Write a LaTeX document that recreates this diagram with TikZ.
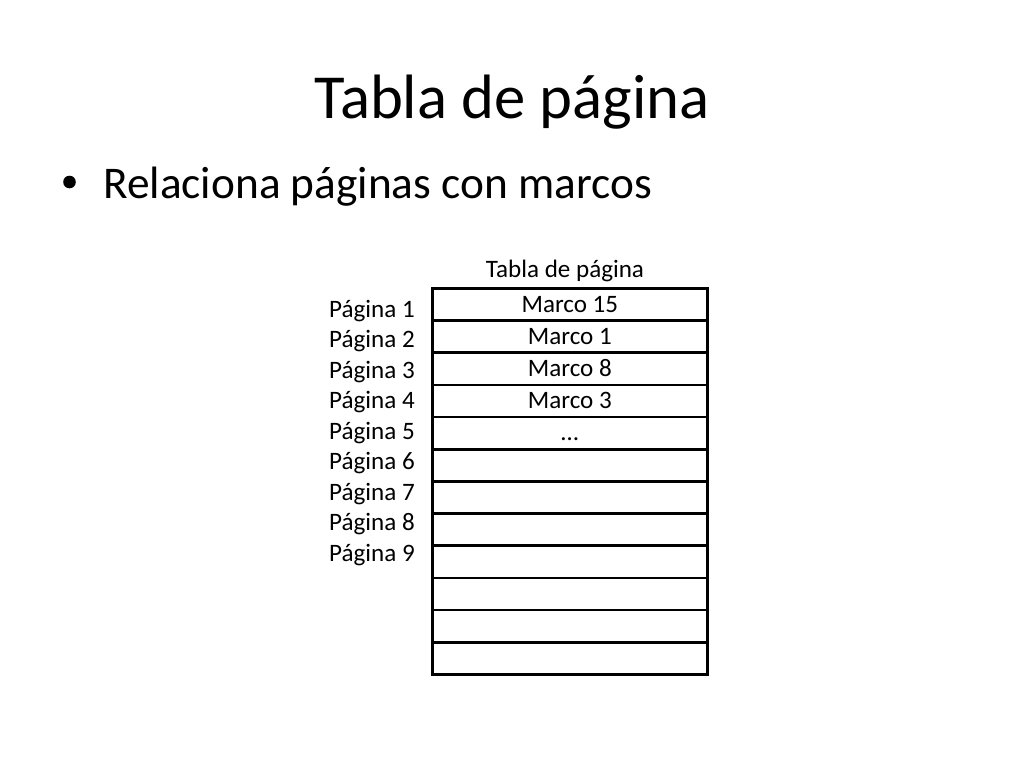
\documentclass[tikz,border=0pt]{standalone}
\usepackage{fontspec}
\setmainfont{Carlito}
\usetikzlibrary{calc}
\begin{document}
\begin{tikzpicture}[x=0.75pt,y=-0.75pt,
  title/.style={font=\fontsize{47}{56}\selectfont, anchor=base},
  bullettext/.style={font=\fontsize{34}{41}\selectfont, anchor=base west, inner sep=0pt},
  small/.style={font=\fontsize{18.8}{22}\selectfont},
  rowbox/.style={draw=black, line width=2pt, minimum width=275*0.75pt, minimum height=32.17*0.75pt, inner sep=0pt, anchor=north west}]
\useasboundingbox (0,0) rectangle (1024,768);
\node[title] (t) at (512,118) {Tabla de página};
\fill (69.5,182) circle (6.3);
\node[bullettext] (b) at (103,198) {Relaciona páginas con marcos};
\node[small, anchor=base] (th) at (565,277) {Tabla de página};
\foreach \i in {1,...,12} {
  \node[rowbox] (r\i) at (431,{287+(\i-1)*32.17}) {};
}
\foreach \i/\t in {1/Marco 15,2/Marco 1,3/Marco 8,4/Marco 3,5/…} {
  \node[small, anchor=base] (m\i) at ($(r\i.north)+(0,25)$) {\t};
}
\foreach \i in {1,...,9} {
  \node[small, anchor=base east, inner sep=0pt] (p\i) at (415,{317+(\i-1)*30.5}) {Página \i};
}
\end{tikzpicture}
\end{document}
